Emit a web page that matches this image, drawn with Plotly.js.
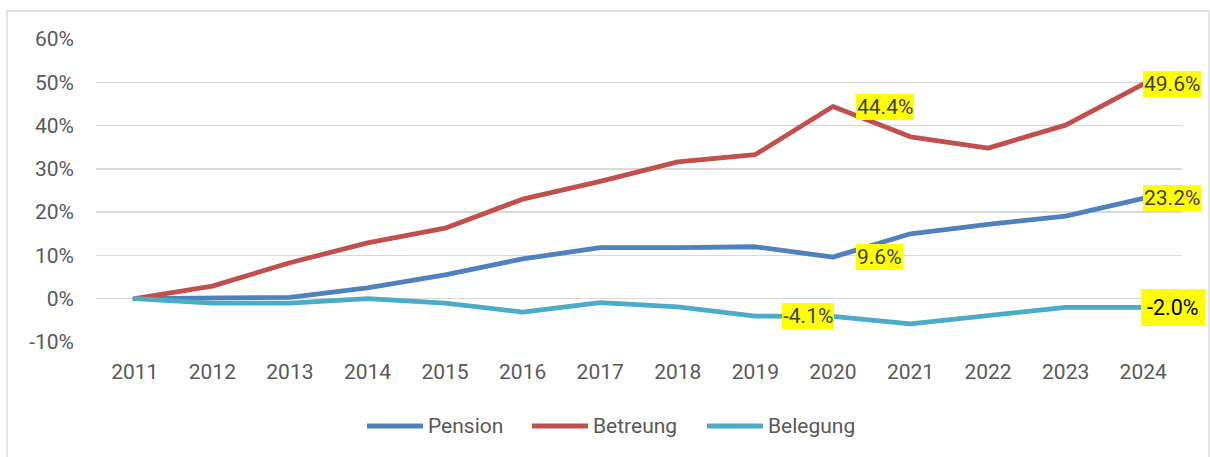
<!DOCTYPE html>
<html>
<head>
<meta charset="utf-8">
<script src="https://cdn.plot.ly/plotly-3.0.1.min.js"></script>
<style>
  html, body { margin: 0; padding: 0; background: #fff; }
  #chart { width: 1210px; height: 457px; }
  .scatterlayer .js-line { stroke-linejoin: round; stroke-linecap: round; }
</style>
</head>
<body>
<div id="chart"></div>
<script>
// ---- data ----
const years = ['2011','2012','2013','2014','2015','2016','2017','2018','2019','2020','2021','2022','2023','2024'];
const seriesNames = ['Pension', 'Betreung', 'Belegung'];
const pension   = [0, 0.1, 0.3, 2.5, 5.5, 9.2, 11.8, 11.8, 12.0, 9.6, 15.0, 17.2, 19.1, 23.2];
const betreuung = [0, 2.9, 8.3, 12.9, 16.3, 23.0, 27.1, 31.6, 33.3, 44.4, 37.4, 34.8, 40.1, 49.6];
const belegung  = [0, -1.0, -1.0, 0.0, -1.0, -3.1, -0.9, -1.9, -4.0, -4.1, -5.8, -3.9, -2.0, -2.0];
const yTickVals = [-10, 0, 10, 20, 30, 40, 50, 60];
const yTickText = ['-10%', '0%', '10%', '20%', '30%', '40%', '50%', '60%'];
const labelledYears = ['2020', '2024'];

// ---- styling ----
const colors = ['#4F81BD', '#C0504D', '#4BACC6'];
const FONT = 'Roboto, "Liberation Sans", sans-serif';
const W = 1210, H = 457;
const M = { l: 96, r: 28, t: 39, b: 115 };
const PW = W - M.l - M.r, PH = H - M.t - M.b;
const px2x = px => (px - M.l) / PW;
const py2y = py => (H - M.b - py) / PH;
const xNum = years.map(Number);

const allSeries = [pension, betreuung, belegung];
const traces = allSeries.map((vals, i) => ({
  type: 'scatter',
  mode: 'lines',
  name: seriesNames[i],
  x: xNum,
  y: vals,
  line: { color: colors[i], width: 4.8 },
  showlegend: false,
  hoverinfo: 'x+y+name'
}));

// data labels (per series, per labelled year): anchor/shift/style
const labelStyle = {
  'Pension':  { '2020': { xanchor: 'left', xshift: 23 }, '2024': { xanchor: 'left', xshift: 0 } },
  'Betreung': { '2020': { xanchor: 'left', xshift: 23 }, '2024': { xanchor: 'left', xshift: 0 } },
  'Belegung': { '2020': { xanchor: 'right', xshift: 1 }, '2024': { xanchor: 'left', xshift: -2, big: true } }
};
const annotations = [];
allSeries.forEach((vals, i) => {
  labelledYears.forEach(yr => {
    const idx = years.indexOf(yr);
    const st = labelStyle[seriesNames[i]][yr];
    annotations.push({
      x: xNum[idx], y: vals[idx], xref: 'x', yref: 'y',
      text: vals[idx].toFixed(1) + '%',
      showarrow: false,
      xanchor: st.xanchor, yanchor: 'middle',
      xshift: st.xshift,
      bgcolor: '#FFFF00',
      borderpad: st.big ? 6 : 1,
      borderwidth: 0,
      font: { family: FONT, size: st.big ? 21.5 : 21, color: st.big ? '#000000' : '#404040' }
    });
  });
});

// custom legend (line sample + name)
const legendStarts = [367, 532, 707];
const legendY = 426;
const shapes = [];
seriesNames.forEach((nm, i) => {
  shapes.push({
    type: 'line', xref: 'paper', yref: 'paper',
    x0: px2x(legendStarts[i]), x1: px2x(legendStarts[i] + 56),
    y0: py2y(legendY), y1: py2y(legendY),
    line: { color: colors[i], width: 5 }
  });
  annotations.push({
    xref: 'paper', yref: 'paper',
    x: px2x(legendStarts[i] + 59), y: py2y(legendY),
    xanchor: 'left', yanchor: 'middle',
    text: nm, showarrow: false,
    font: { family: FONT, size: 21, color: '#595959' }
  });
});
// outer chart frame
shapes.push({
  type: 'rect', xref: 'paper', yref: 'paper', layer: 'below',
  x0: px2x(7), x1: px2x(1209), y0: py2y(470), y1: py2y(11),
  line: { color: '#D9D9D9', width: 1.3 }, fillcolor: 'rgba(0,0,0,0)'
});

const layout = {
  width: W, height: H,
  margin: M,
  paper_bgcolor: '#ffffff',
  plot_bgcolor: '#ffffff',
  showlegend: false,
  font: { family: FONT, size: 21, color: '#595959' },
  xaxis: {
    type: 'linear',
    range: [xNum[0] - 0.5, xNum[xNum.length - 1] + 0.5],
    tickvals: xNum, ticktext: years,
    showgrid: false, zeroline: false, showline: false,
    ticks: '', ticklabelstandoff: 15,
    tickfont: { family: FONT, size: 21, color: '#595959' },
    fixedrange: true
  },
  yaxis: {
    range: [-10, 60],
    tickvals: yTickVals, ticktext: yTickText,
    showgrid: true, gridcolor: '#D9D9D9', gridwidth: 1.3,
    zeroline: false, showline: false, ticks: '',
    ticklabelstandoff: 21,
    tickfont: { family: FONT, size: 21, color: '#595959' },
    fixedrange: true
  },
  annotations: annotations,
  shapes: shapes
};

Plotly.newPlot('chart', traces, layout, { displayModeBar: false, staticPlot: true });
</script>
</body>
</html>
